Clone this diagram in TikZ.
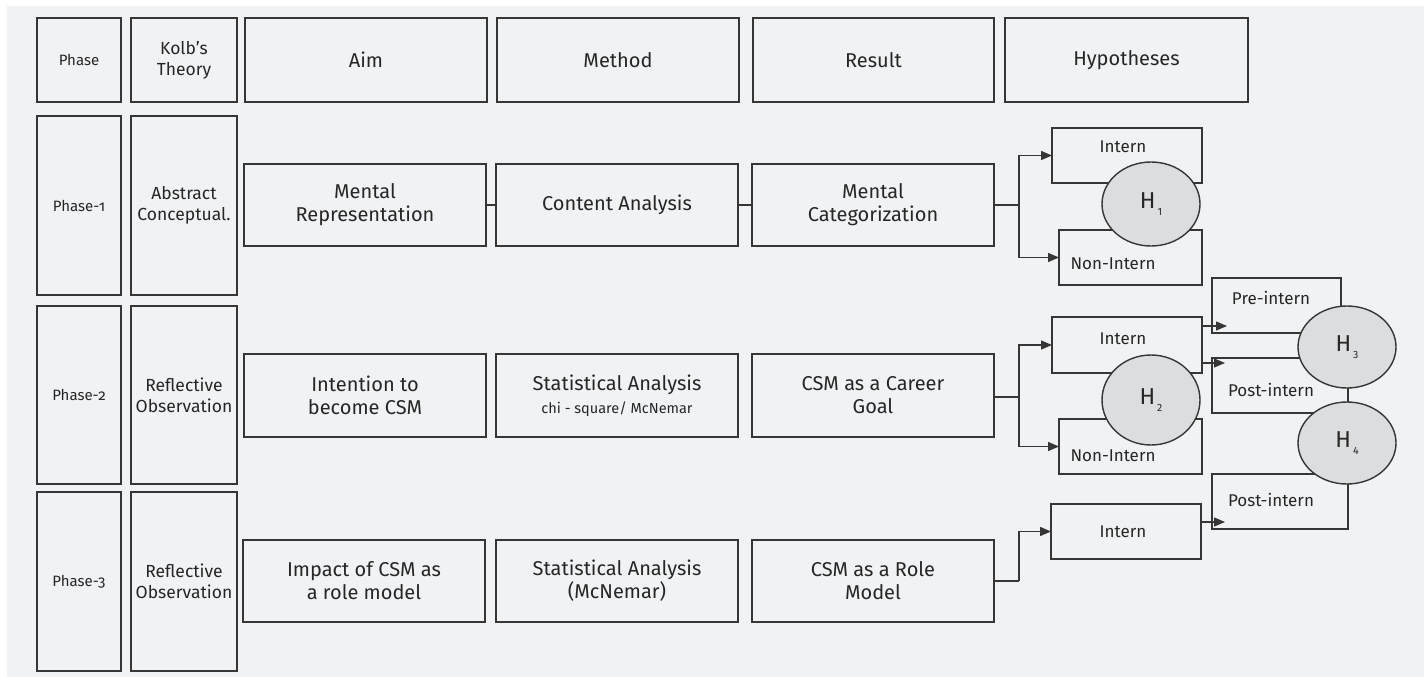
\documentclass[tikz,border=0pt]{standalone}
\usepackage{fontspec}
\setmainfont{Fira Sans}
\usetikzlibrary{arrows.meta,shapes.geometric,calc}
\definecolor{bgc}{HTML}{F1F2F4}
\definecolor{ln}{HTML}{363636}
\definecolor{elf}{HTML}{DCDDDF}
\definecolor{tx}{HTML}{262626}
\begin{document}
\begin{tikzpicture}[x=1pt,y=-1pt,
  box/.style={draw=ln, line width=1.4pt, rectangle, inner sep=2pt, outer sep=0pt, align=center, text=tx, font=\fontsize{20}{23}\selectfont},
  colA/.style={box, minimum width=84pt, minimum height=179pt, font=\fontsize{15}{18}\selectfont\addfontfeatures{Numbers=OldStyle}},
  colB/.style={box, minimum width=106pt, minimum height=179pt, font=\fontsize{17.5}{21}\selectfont},
  hdr/.style={box, minimum height=84pt},
  cell/.style={box, minimum width=242pt, minimum height=82pt},
  sub/.style={box, minimum height=55pt},
  lbl/.style={text=tx, inner sep=0pt, font=\fontsize{17}{20}\selectfont},
  hyp/.style={ellipse, draw=ln, fill=elf, line width=1.4pt, minimum width=98pt, minimum height=84pt, inner sep=0pt, text=tx, font=\fontsize{23}{23}\selectfont},
  conn/.style={draw=ln, line width=1.4pt},
  arr/.style={draw=ln, line width=1.4pt, -{Triangle[length=11pt,width=9pt]}}
]
\useasboundingbox (0,0) rectangle (1424,677);
\fill[bgc] (7,6) rectangle (1424,677);

% header row
\node[hdr, minimum width=84pt, font=\fontsize{15}{18}\selectfont] (hPhase) at (79,60) {Phase};
\node[hdr, minimum width=106pt, font=\fontsize{17.5}{21}\selectfont] (hKolb) at (184,60) {Kolb’s\\Theory};
\node[hdr, minimum width=242pt] (hAim) at (366,60) {Aim};
\node[hdr, minimum width=242pt] (hMethod) at (618,60) {Method};
\node[hdr, minimum width=241pt] (hResult) at (873.5,60) {Result};
\node[hdr, minimum width=243pt] (hHyp) at (1126.5,60) {Hypotheses};

% row 1
\node[colA] (p1) at (79,205.5) {Phase-1};
\node[colB] (k1) at (184,205.5) {Abstract\\Conceptual.};
\node[cell] (aim1) at (365,205) {Mental\\Representation};
\node[cell] (met1) at (617,205) {Content Analysis};
\node[cell] (res1) at (873,205) {Mental\\Categorization};

% row 2
\node[colA, minimum height=178pt] (p2) at (79,395) {Phase-2};
\node[colB, minimum height=178pt] (k2) at (184,395) {Reflective\\Observation};
\node[cell, minimum height=83pt] (aim2) at (365,395.5) {Intention to\\become CSM};
\node[cell, minimum height=83pt] (met2) at (617,395.5) {Statistical Analysis\\{\fontsize{14.5}{17}\selectfont chi - square/ McNemar}};
\node[cell, minimum height=83pt] (res2) at (873,395.5) {CSM as a Career\\Goal};

% row 3
\node[colA] (p3) at (79,581.5) {Phase-3};
\node[colB] (k3) at (184,581.5) {Reflective\\Observation};
\node[cell] (aim3) at (364,581) {Impact of CSM as\\a role model};
\node[cell] (met3) at (617,581) {Statistical Analysis\\(McNemar)};
\node[cell] (res3) at (873,581) {CSM as a Role\\Model};

% right side boxes
\node[sub, minimum width=150pt] (int1) at (1127,155.5) {};
\node[sub, minimum width=143pt] (non1) at (1130.5,257.5) {};
\node[sub, minimum width=150pt, minimum height=56pt] (int2) at (1127,345) {};
\node[sub, minimum width=143pt] (non2) at (1130.5,446.5) {};
\node[sub, minimum width=129pt] (pre) at (1276.5,305.5) {};
\node[sub, minimum width=136pt] (post1) at (1280,385.5) {};
\node[sub, minimum width=136pt] (post2) at (1280,501.5) {};
\node[sub, minimum width=150pt] (int3) at (1126,531.5) {};

% labels
\node[lbl] (lint1) at (1123,147) {Intern};
\node[lbl] (lnon1) at (1113,264) {Non-Intern};
\node[lbl] (lint2) at (1123,339) {Intern};
\node[lbl] (lnon2) at (1113,456) {Non-Intern};
\node[lbl] (lpre) at (1271,298) {Pre-intern};
\node[lbl] (lpost1) at (1271,390) {Post-intern};
\node[lbl] (lpost2) at (1271,500) {Post-intern};
\node[lbl] (lint3) at (1123,532) {Intern};

% hypotheses ellipses
\node[hyp] (H1) at (1151,204) {H\kern2pt\raisebox{-7pt}{\fontsize{10.5}{10.5}\selectfont 1}};
\node[hyp, minimum height=90pt] (H2) at (1151,400) {H\kern2pt\raisebox{-7pt}{\fontsize{10.5}{10.5}\selectfont 2}};
\node[hyp, minimum height=82pt] (H3) at (1347,347) {H\kern2pt\raisebox{-7pt}{\fontsize{10.5}{10.5}\selectfont 3}};
\node[hyp, minimum height=82pt] (H4) at (1347,443) {H\kern2pt\raisebox{-7pt}{\fontsize{10.5}{10.5}\selectfont 4}};

% row 1 connectors
\draw[conn] (aim1.east) -- (met1.west);
\draw[conn] (met1.east) -- (res1.west);

% branches
\coordinate (j1) at (1019,205);
\draw[conn] (res1.east) -- (j1);
\draw[arr] (j1) |- (int1.west);
\draw[arr] (j1) |- (non1.west);

\coordinate (j2) at (1019,397);
\draw[conn] (res2.east |- j2) -- (j2);
\draw[arr] (j2) |- (int2.west);
\draw[arr] (j2) |- (non2.west);

\coordinate (j3) at (1019,581);
\draw[conn] (res3.east) -- (j3);
\draw[arr] (j3) |- (int3.west);

% arrows to pre/post
\draw[arr] ([yshift=19pt]int2.east) -- ($(int2.east -| pre.west)+(15,-19)$);
\draw[arr] ([yshift=-18pt]int2.east) -- ($(int2.east -| post1.west)+(13,18)$);
\draw[arr] ([yshift=9.5pt]int3.east) -- ($(int3.east -| post2.west)+(13,-9.5)$);
\end{tikzpicture}
\end{document}
